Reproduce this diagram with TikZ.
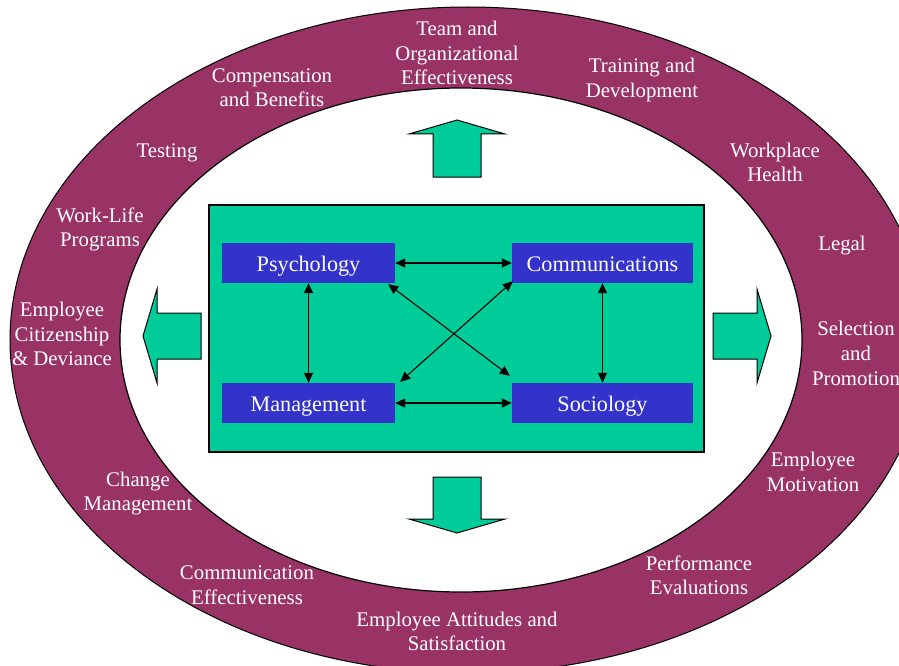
\documentclass[tikz,border=0pt]{standalone}
\usepackage{fontspec}
\setmainfont{Liberation Serif}
\usetikzlibrary{arrows.meta,calc}
\definecolor{ring}{HTML}{993366}
\definecolor{panel}{HTML}{00CC99}
\definecolor{disc}{HTML}{3333CC}
\begin{document}
\begin{tikzpicture}[x=1pt,y=-1pt,
  ringlabel/.style={text=white, align=center, inner sep=0pt,
    font=\fontsize{20.8}{24.6}\selectfont,
    execute at begin node=\strut, execute at end node=\strut},
  discbox/.style={fill=disc, text=white, inner sep=0pt,
    minimum height=40pt, text height=20pt, text depth=4pt,
    font=\fontsize{22.2}{25}\selectfont},
  link/.style={{Triangle[length=10pt,width=9pt]}-{Triangle[length=10pt,width=9pt]}, line width=1.1pt},
  blockarrow/.style={fill=panel, draw=black, line width=1pt, line join=miter}]
\clip (0,0) rectangle (899,666);
\fill[white] (0,0) rectangle (899,666);
% ring
\draw[fill=ring, line width=1pt] (468,340) ellipse [x radius=458, y radius=333];
\draw[fill=white, line width=1.2pt] (461,340) ellipse [x radius=341, y radius=252];
% ring labels
\node[ringlabel] (l1) at (457,56.5) {Team and\\Organizational\\Effectiveness};
\node[ringlabel] (l2) at (272,91.5) {Compensation\\and Benefits};
\node[ringlabel] (l3) at (642,81.5) {Training and\\Development};
\node[ringlabel] (l4) at (167,153) {Testing};
\node[ringlabel] (l5) at (775,166) {Workplace\\Health};
\node[ringlabel] (l6) at (100,231) {Work-Life\\Programs};
\node[ringlabel] (l7) at (842,246) {Legal};
\node[ringlabel] (l8) at (62,337.5) {Employee\\Citizenship\\\& Deviance};
\node[ringlabel] (l9) at (856,357) {Selection\\and\\Promotion};
\node[ringlabel] (l10) at (813,475.5) {Employee\\Motivation};
\node[ringlabel] (l11) at (138,495) {Change\\Management};
\node[ringlabel] (l12) at (699,579) {Performance\\Evaluations};
\node[ringlabel] (l13) at (247,589) {Communication\\Effectiveness};
\node[ringlabel] (l14) at (457,635) {Employee Attitudes and\\Satisfaction};
% block arrows
\draw[blockarrow] (433,177) -- (433,134) -- (409,134) -- (457,120) -- (505,134) -- (481,134) -- (481,177) -- cycle;
\draw[blockarrow] (433,477) -- (433,519) -- (409,519) -- (457,533) -- (505,519) -- (481,519) -- (481,477) -- cycle;
\draw[blockarrow] (201,313) -- (157,313) -- (157,289) -- (143,336) -- (157,383) -- (157,359) -- (201,359) -- cycle;
\draw[blockarrow] (713,313) -- (757,313) -- (757,289) -- (771,336) -- (757,383) -- (757,359) -- (713,359) -- cycle;
% central panel
\node[draw=black, fill=panel, line width=1.3pt, inner sep=0pt,
  minimum width=495pt, minimum height=247pt] (panel) at (456.5,328.5) {};
\node[discbox, minimum width=173pt] (psy) at (308.5,263) {Psychology};
\node[discbox, minimum width=181pt] (com) at (602.5,263) {Communications};
\node[discbox, minimum width=173pt] (mgmt) at (308.5,403) {Management};
\node[discbox, minimum width=181pt] (soc) at (602.5,403) {Sociology};
% links
\draw[link] (psy) -- (com);
\draw[link] (mgmt) -- (soc);
\draw[link] (psy) -- (mgmt);
\draw[link] (com) -- (soc);
\draw[link] ($(psy.south east)+(-7,1)$) -- ($(soc.north west)+(-2,-7)$);
\draw[link] ($(com.south west)+(1,-2)$) -- ($(mgmt.north east)+(5,-1)$);
\end{tikzpicture}
\end{document}
